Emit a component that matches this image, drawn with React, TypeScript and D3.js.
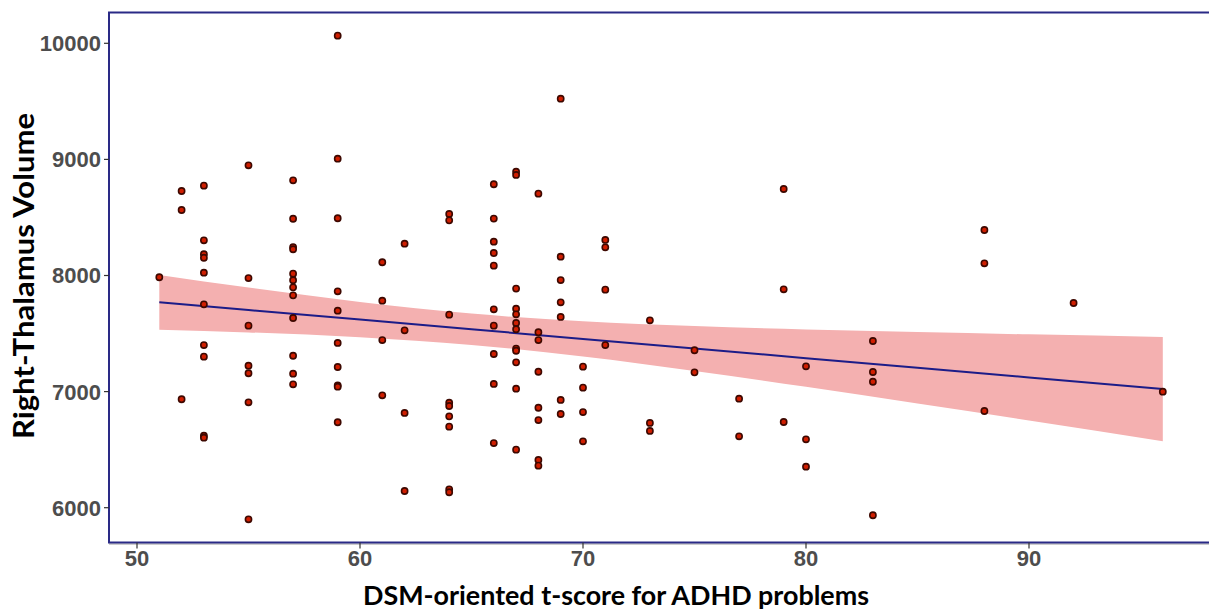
import React from 'react';
import * as d3 from 'd3';

// DSM-oriented ADHD t-scores (x) and the right-thalamus volumes seen at each score
const scoreColumns = [51, 52, 53, 55, 57, 59, 61, 62, 64, 66, 67, 68, 69, 70, 71, 73, 75, 77, 79, 80, 83, 88, 92, 96];
const volumesByScore = [
  [7985],
  [8728, 8564, 6934],
  [8774, 8303, 8183, 8153, 8024, 7752, 7401, 7301, 6620, 6603],
  [8949, 7978, 7568, 7223, 7158, 6908, 5900],
  [8820, 8489, 8245, 8226, 8016, 7959, 7898, 7829, 7634, 7309, 7154, 7063],
  [10066, 9006, 8493, 7864, 7697, 7419, 7212, 7054, 7042, 6736],
  [8114, 7783, 7444, 6968],
  [8274, 7528, 6816, 6144],
  [8530, 8475, 7663, 6904, 6876, 6787, 6698, 6158, 6133],
  [8786, 8490, 8291, 8194, 8085, 7709, 7568, 7324, 7066, 6557],
  [8894, 8866, 7887, 7714, 7666, 7591, 7537, 7370, 7352, 7252, 7025, 6500],
  [8705, 7511, 7444, 7171, 6861, 6755, 6411, 6362],
  [9523, 8162, 7961, 7769, 7643, 6928, 6807],
  [7215, 7034, 6824, 6572],
  [8306, 8243, 7878, 7401],
  [7614, 6730, 6661],
  [7356, 7166],
  [6939, 6615],
  [8745, 7881, 6738],
  [7218, 6589, 6353],
  [7436, 7169, 7085, 5935],
  [8392, 8105, 6833],
  [7763],
  [6999],
];

// linear fit and its confidence band
const fitScore = [51, 55, 60, 65, 70, 75, 80, 85, 90, 96];
const fitVolume = [7769, 7703, 7620, 7537, 7454, 7371, 7288, 7205, 7122, 7022];
const fitLower = [7533, 7510, 7468, 7402, 7302, 7178, 7041, 6897, 6751, 6573];
const fitUpper = [8005, 7896, 7772, 7672, 7606, 7564, 7535, 7513, 7493, 7471];

const xTicks = [50, 60, 70, 80, 90];
const yTicks = [6000, 7000, 8000, 9000, 10000];

const W = 1209;
const H = 610;
const panel = { left: 109, top: 12.5, right: 1212, bottom: 542.5 };

const App = () => {
  const x = d3.scaleLinear().domain([50, 90]).range([137, 1029]);
  const y = d3.scaleLinear().domain([6000, 10000]).range([507.7, 43.3]);

  const points = scoreColumns.flatMap((t, i) => volumesByScore[i].map(v => ({ t, v })));
  const fit = fitScore.map((t, i) => ({ t, v: fitVolume[i], lo: fitLower[i], hi: fitUpper[i] }));

  const band = d3.area<any>()
    .x(d => x(d.t))
    .y0(d => y(d.lo))
    .y1(d => y(d.hi))
    .curve(d3.curveMonotoneX)(fit);

  const line = d3.line<any>()
    .x(d => x(d.t))
    .y(d => y(d.v))(fit);

  const tickFont = { fontFamily: '"Liberation Sans", Arial, sans-serif', fontWeight: 'bold', fontSize: 22, fill: '#4d4d4d' };
  const titleFont = { fontFamily: 'Lato, "Open Sans", sans-serif', fontWeight: 'bold', fill: '#000' };

  return (
    <svg width={W} height={H} style={{ position: 'absolute', left: 0, top: 0, background: '#fff' }}>
      <rect x={0} y={0} width={W} height={H} fill="#fff" />

      {/* confidence band and fit line */}
      <path d={band || ''} fill="#f4b0b0" stroke="none" />
      <path d={line || ''} fill="none" stroke="#1c1c88" strokeWidth={2} />

      {/* points */}
      {points.map((d, i) => (
        <circle key={i} cx={x(d.t)} cy={y(d.v)} r={3.1} fill="#d01e00" stroke="#3d0800" strokeWidth={1.6} />
      ))}

      {/* panel border */}
      <line x1={panel.left} x2={W} y1={panel.bottom + 1.5} y2={panel.bottom + 1.5} stroke="#9a9a9a" strokeWidth={1} />
      <rect x={panel.left} y={panel.top} width={panel.right - panel.left} height={panel.bottom - panel.top}
        fill="none" stroke="#2a2a86" strokeWidth={2} />

      {/* y axis */}
      {yTicks.map(v => (
        <g key={v}>
          <line x1={panel.left - 5} x2={panel.left} y1={y(v)} y2={y(v)} stroke="#333" strokeWidth={1.2} />
          <text x={101} y={y(v)} dy="0.36em" textAnchor="end" style={tickFont}>{v}</text>
        </g>
      ))}

      {/* x axis */}
      {xTicks.map(t => (
        <g key={t}>
          <line x1={x(t)} x2={x(t)} y1={panel.bottom} y2={panel.bottom + 6} stroke="#333" strokeWidth={1.2} />
          <text x={x(t)} y={566} textAnchor="middle" style={tickFont}>{t}</text>
        </g>
      ))}

      <text x={616} y={605} textAnchor="middle" fontSize={27} textLength={506} lengthAdjust="spacingAndGlyphs" style={titleFont}>
        DSM-oriented t-score for ADHD problems
      </text>
      <text transform="translate(34,276) rotate(-90)" textAnchor="middle" fontSize={28} textLength={326} lengthAdjust="spacingAndGlyphs" style={titleFont}>
        Right-Thalamus Volume
      </text>
    </svg>
  );
};

export default App;
